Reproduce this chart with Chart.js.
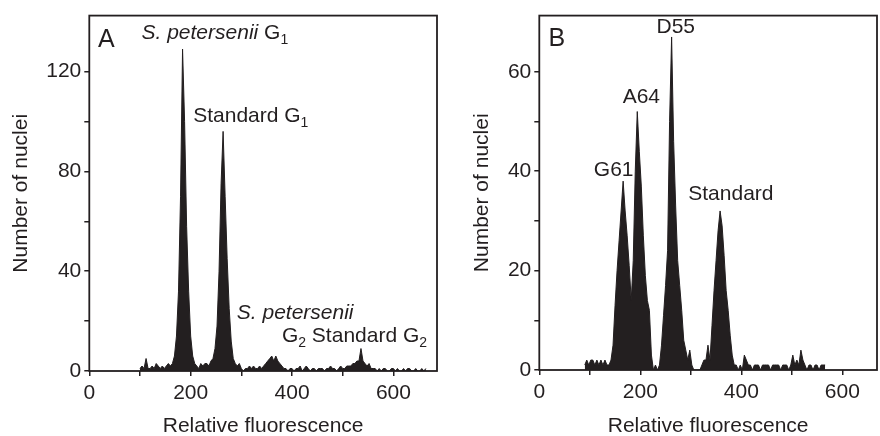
<!DOCTYPE html>
<html>
<head>
<meta charset="utf-8">
<script src="https://cdn.jsdelivr.net/npm/chart.js@4.4.1/dist/chart.umd.min.js"></script>
<style>
  html, body { margin: 0; padding: 0; background: #fff; }
  body { width: 880px; height: 436px; position: relative; overflow: hidden; }
  .panel { position: absolute; top: 0; }
  #panel-a { left: 0; }
  #panel-b { left: 461px; }
</style>
</head>
<body>
<div class="panel" id="panel-a"><canvas id="chart-a" width="445" height="436"></canvas></div>
<div class="panel" id="panel-b"><canvas id="chart-b" width="419" height="436"></canvas></div>
<script>
// histogram channels: one count per bin of 4 fluorescence units
const binWidth = 4;

// panel A, bins from 100 to 664
const binStartA = 100;
const countsA = [
  1, 2, 1, 5, 1, 1, 2, 1, 3, 2,
  1, 2, 1, 2, 3, 2, 3, 6, 14, 32,
  70, 129, 100, 58, 32, 14, 6, 3, 2, 1,
  3, 2, 3, 3, 2, 4, 5, 9, 18, 40,
  75, 96, 70, 45, 25, 12, 5, 3, 2, 3,
  1, 0, 1, 1, 2, 1, 2, 1, 1, 2,
  1, 2, 3, 4, 5, 6, 4, 6, 4, 3,
  2, 1, 1, 0, 1, 1, 0, 1, 1, 2,
  0, 1, 2, 1, 0, 1, 1, 0, 1, 1,
  1, 0, 1, 1, 2, 1, 1, 0, 1, 2,
  1, 1, 2, 2, 2, 3, 3, 4, 4, 9,
  4, 3, 2, 3, 1, 1, 1, 0, 1, 0,
  1, 1, 0, 0, 1, 1, 0, 1, 0, 0,
  1, 0, 1, 1, 0, 0, 1, 0, 0, 1,
  0, 1
];

// panel B, bins from 90 to 566
const binStartB = 90;
const countsB = [
  1, 2, 1, 2, 2, 1, 2, 1, 2, 1,
  2, 1, 1, 2, 5, 13, 20, 26, 32, 38,
  32, 27, 21, 14, 22, 40, 52, 44, 37, 27,
  19, 14, 12, 3, 0, 1, 0, 1, 5, 11,
  17, 24, 50, 67, 46, 33, 22, 17, 12, 6,
  4, 2, 4, 1, 0, 0, 0, 0, 1, 2,
  2, 5, 2, 9, 16, 22, 28, 32, 29, 23,
  16, 12, 7, 3, 1, 1, 0, 1, 0, 3,
  2, 1, 1, 0, 1, 1, 1, 0, 1, 1,
  1, 1, 0, 1, 1, 1, 1, 0, 1, 1,
  1, 0, 1, 3, 1, 2, 1, 4, 2, 1,
  0, 1, 1, 0, 1, 1, 0, 1, 1, 1
];

const xTicks = [0, 100, 200, 300, 400, 500, 600];
const xTickLabels = [0, 200, 400, 600];
const yTicksA = [0, 20, 40, 60, 80, 100, 120];
const yTickLabelsA = [0, 40, 80, 120];
const yTicksB = [0, 10, 20, 30, 40, 50, 60];
const yTickLabelsB = [0, 20, 40, 60];

// peak labels, anchored at data coordinates (left, baseline)
const notesA = [
  { x: 17, y: 130, parts: [{ t: 'A', size: 25 }] },
  { x: 103, y: 133, parts: [{ t: 'S. petersenii', italic: true }, { t: ' G' }, { t: '1', sub: true }] },
  { x: 205, y: 99.6, parts: [{ t: 'Standard G' }, { t: '1', sub: true }] },
  { x: 291, y: 20.8, parts: [{ t: 'S. petersenii', italic: true }] },
  { x: 380, y: 11.5, parts: [{ t: 'G' }, { t: '2', sub: true }, { t: ' Standard G' }, { t: '2', sub: true }] }
];
const notesB = [
  { x: 18, y: 65.2, parts: [{ t: 'B', size: 25 }] },
  { x: 232, y: 67.7, parts: [{ t: 'D55' }] },
  { x: 165, y: 53.7, parts: [{ t: 'A64' }] },
  { x: 108, y: 39.1, parts: [{ t: 'G61' }] },
  { x: 295, y: 34.3, parts: [{ t: 'Standard' }] }
];

const INK = '#231f20';
const FONT = "'Liberation Sans', Arial, Helvetica, sans-serif";

const framePlugin = {
  id: 'frame',
  afterDatasetsDraw(chart) {
    const { ctx, chartArea: a } = chart;
    ctx.save();
    ctx.strokeStyle = INK;
    ctx.lineWidth = 1.8;
    ctx.strokeRect(a.left, a.top, a.right - a.left, a.bottom - a.top);
    ctx.restore();
  }
};

const makeNotesPlugin = (notes) => ({
  id: 'notes',
  afterDraw(chart) {
    const { ctx, scales: { x, y } } = chart;
    ctx.save();
    ctx.fillStyle = INK;
    ctx.textAlign = 'left';
    ctx.textBaseline = 'alphabetic';
    notes.forEach(note => {
      let px = x.getPixelForValue(note.x);
      const py = y.getPixelForValue(note.y);
      note.parts.forEach(p => {
        const size = p.sub ? 14 : (p.size || 21);
        ctx.font = `${p.italic ? 'italic ' : ''}${size}px ${FONT}`;
        ctx.fillText(p.t, px, py + (p.sub ? 5 : 0));
        px += ctx.measureText(p.t).width;
      });
    });
    ctx.restore();
  }
});

const makeChart = (canvasId, p) => {
  const points = p.counts.map((c, i) => ({ x: p.binStart + i * binWidth, y: c }));
  return new Chart(document.getElementById(canvasId).getContext('2d'), {
    type: 'line',
    data: {
      datasets: [{
        data: points,
        tension: 0,
        fill: 'origin',
        backgroundColor: INK,
        borderColor: INK,
        borderWidth: 1,
        pointRadius: 0
      }]
    },
    options: {
      responsive: false,
      animation: false,
      devicePixelRatio: 1,
      layout: { padding: { top: 10, right: p.rightPad, left: 0, bottom: 0 } },
      plugins: { legend: { display: false }, tooltip: { enabled: false } },
      scales: {
        x: {
          type: 'linear',
          min: 0,
          max: p.xMax,
          afterBuildTicks: s => { s.ticks = xTicks.map(v => ({ value: v })); },
          afterFit: s => { s.height = p.xAxisHeight; },
          grid: { drawOnChartArea: false, tickLength: 5, color: INK, lineWidth: 1.5 },
          border: { display: false },
          ticks: {
            color: INK, font: { family: FONT, size: 21 }, padding: 5, maxRotation: 0, autoSkip: false,
            callback: v => xTickLabels.includes(v) ? String(v) : ''
          },
          title: { display: true, text: 'Relative fluorescence', color: INK, font: { family: FONT, size: 21 }, padding: { top: 0, bottom: -3 } }
        },
        y: {
          min: 0,
          max: p.yMax,
          afterBuildTicks: s => { s.ticks = p.yTicks.map(v => ({ value: v })); },
          afterFit: s => { s.width = p.yAxisWidth; },
          grid: { drawOnChartArea: false, tickLength: 5, color: INK, lineWidth: 1.5 },
          border: { display: false },
          ticks: {
            color: INK, font: { family: FONT, size: 21 }, padding: 3,
            callback: v => p.yLabels.includes(v) ? String(v) : ''
          },
          title: { display: true, text: 'Number of nuclei', color: INK, font: { family: FONT, size: 21 }, padding: { top: 9, bottom: 0 } }
        }
      }
    },
    plugins: [framePlugin, makeNotesPlugin(p.notes)]
  });
};

makeChart('chart-a', {
  counts: countsA, binStart: binStartA, xMax: 686, yMax: 142.4,
  yTicks: yTicksA, yLabels: yTickLabelsA, notes: notesA,
  yAxisWidth: 89.3, xAxisHeight: 65, rightPad: 8
});
makeChart('chart-b', {
  counts: countsB, binStart: binStartB, xMax: 668.7, yMax: 71.3,
  yTicks: yTicksB, yLabels: yTickLabelsB, notes: notesB,
  yAxisWidth: 78.3, xAxisHeight: 66, rightPad: 3
});
</script>
</body>
</html>
